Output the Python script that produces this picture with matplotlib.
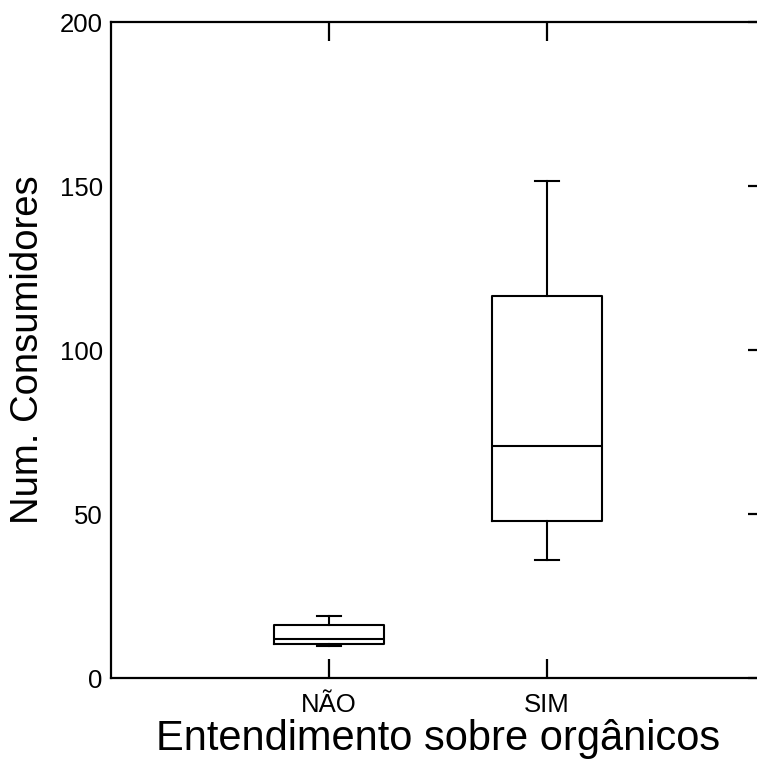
import matplotlib
matplotlib.use("Agg")
import matplotlib.pyplot as plt

plt.rcParams['font.family'] = ['Liberation Sans', 'DejaVu Sans']

# Resumo das caixas (quartis e bigodes) por grupo
grupos = ["NÃO", "SIM"]
minimos = [9.8, 36.0]
q1 = [10.4, 47.8]
medianas = [11.8, 70.6]
q3 = [16.2, 116.6]
maximos = [18.9, 151.6]

y_ticks = [0, 50, 100, 150, 200]

stats = []
for i, nome in enumerate(grupos):
    stats.append({
        "label": nome,
        "whislo": minimos[i],
        "q1": q1[i],
        "med": medianas[i],
        "q3": q3[i],
        "whishi": maximos[i],
        "fliers": [],
    })

fig = plt.figure(figsize=(7.57, 7.62), dpi=100)
ax = fig.add_axes([111 / 757, 84 / 762, 654 / 757, 656 / 762])

lw = 1.5
props = dict(color="black", linewidth=lw)
ax.bxp(stats, positions=[1, 2], widths=0.505, showfliers=False,
       boxprops=props, whiskerprops=props, capprops=props,
       medianprops=props, capwidths=0.11)

ax.set_xlim(0, 3)
ax.set_ylim(0, 200)
ax.set_yticks(y_ticks)
ax.set_yticklabels([str(v) for v in y_ticks])
ax.set_xticks([1, 2])
ax.set_xticklabels(grupos)

for s in ax.spines.values():
    s.set_linewidth(1.6)

ax.tick_params(axis="x", direction="in", length=13.7, width=1.6,
               top=True, bottom=True, labelsize=18.5, pad=11)
ax.tick_params(axis="y", direction="in", length=12.5, width=1.6,
               left=False, right=True, labelsize=18.5, pad=6)

ax.set_xlabel("Entendimento sobre orgânicos", fontsize=30, labelpad=1)
ax.set_ylabel("Num. Consumidores", fontsize=27.5, labelpad=10)

fig.savefig("out.png", dpi=100)
